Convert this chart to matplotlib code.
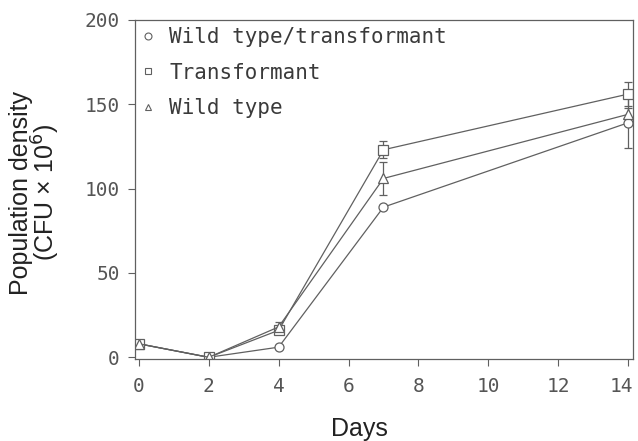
import numpy as np
import matplotlib
matplotlib.use("Agg")
import matplotlib.pyplot as plt
import matplotlib.transforms as mtransforms
from matplotlib.lines import Line2D

days = [0, 2, 4, 7, 14]

labels = ["Wild type/transformant", "Transformant", "Wild type"]
markers = ["o", "s", "^"]

wt_tr = [8, 0, 6, 89, 139]
wt_tr_err = [0, 0, 0, 0, 15]
transf = [8, 0, 16, 123, 156]
transf_err = [0, 0, 2, 5, 7]
wild = [8, 0, 18, 106, 144]
wild_err = [0, 0, 3, 10, 4]

series = [wt_tr, transf, wild]
errs = [wt_tr_err, transf_err, wild_err]

fig = plt.figure(figsize=(6.38, 4.41), dpi=100)
ax = fig.add_axes([0.2116, 0.186, 0.7806, 0.769])

grey = "#606060"
handles = []
for vals, err, m, lab in zip(series, errs, markers, labels):
    ax.errorbar(days, vals, yerr=err, marker=m, ms=6.5, mfc="white", mec=grey,
                mew=0.9, color=grey, lw=0.9, ecolor=grey, elinewidth=0.9,
                capsize=3, capthick=0.9)
    handles.append(Line2D([], [], ls="none", marker=m, ms=5, mfc="white",
                          mec=grey, mew=0.8, label=lab))

ax.set_xlim(-0.11, 14.14)
ax.set_ylim(-1, 200)
ax.set_xticks(range(0, 15, 2))
ax.set_yticks(range(0, 201, 50))

mono = "DejaVu Sans Mono"
for t in ax.get_xticklabels() + ax.get_yticklabels():
    t.set_fontfamily(mono)
    t.set_fontsize(14)
    t.set_color("#555555")
ax.tick_params(direction="out", length=5, width=0.8, color=grey)
ax.tick_params(axis="x", pad=8)
ax.tick_params(axis="y", pad=6)
for s in ax.spines.values():
    s.set_color(grey)
    s.set_linewidth(0.9)

# last x label sits a bit left so it stays inside the image
last = ax.get_xticklabels()[-1]
last.set_transform(last.get_transform() +
                   mtransforms.ScaledTranslation(-5 / 72, 0, fig.dpi_scale_trans))

ax.set_xlabel("Days", fontfamily="Liberation Sans", fontsize=18, color="#222222")
ax.xaxis.set_label_coords(0.45, -0.172)
ax.set_ylabel("Population density\n(CFU × 10$^6$)", fontfamily="Liberation Sans",
              fontsize=18, color="#222222", linespacing=0.9)
ax.yaxis.set_label_coords(-0.146, 0.49)

leg = ax.legend(handles=handles, loc="upper left", frameon=False, handlelength=0.5,
                handletextpad=0.8, labelspacing=0.75, borderaxespad=0.05,
                borderpad=0.3, prop={"family": mono, "size": 15})
for t in leg.get_texts():
    t.set_color("#3a3a3a")

fig.savefig("out.png", dpi=100)
